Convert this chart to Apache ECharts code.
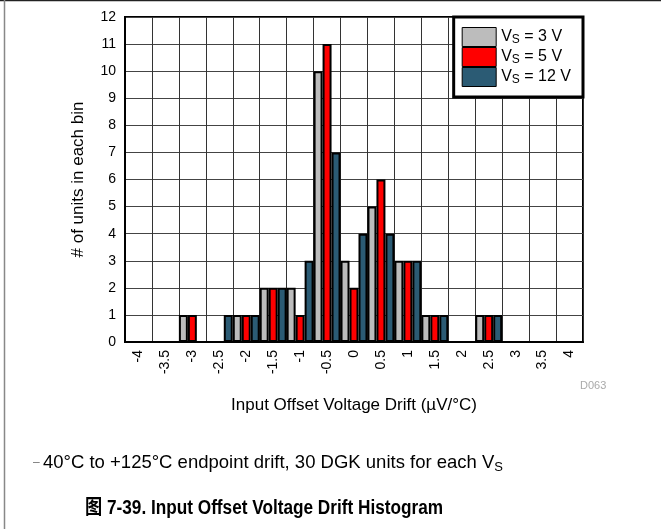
<!DOCTYPE html>
<html>
<head>
<meta charset="utf-8">
<script src="https://cdn.jsdelivr.net/npm/echarts@6/dist/echarts.min.js"></script>
<style>
html, body { margin: 0; padding: 0; background: #fff; }
#main { width: 661px; height: 529px; }
</style>
</head>
<body>
<div id="main"></div>
<script>
// bins of input offset voltage drift (uV/C)
var bins = ['-4', '-3.5', '-3', '-2.5', '-2', '-1.5', '-1', '-0.5', '0', '0.5', '1', '1.5', '2', '2.5', '3', '3.5', '4'];
// number of units in each bin
var vs3 = [0, 0, 1, 0, 1, 2, 2, 10, 3, 5, 3, 1, 0, 1, 0, 0, 0];
var vs5 = [0, 0, 1, 0, 1, 2, 1, 11, 2, 6, 3, 1, 0, 1, 0, 0, 0];
var vs12 = [0, 0, 0, 1, 1, 2, 3, 7, 4, 4, 3, 1, 0, 1, 0, 0, 0];
var names = ['VS = 3 V', 'VS = 5 V', 'VS = 12 V'];
var colors = ['#bcbcbc', '#ff0000', '#2b5b74'];

var font = 'Liberation Sans, Arial, sans-serif';
var myChart = echarts.init(document.getElementById('main'));

function bar(name, data, color) {
	return {
		name: name,
		type: 'bar',
		data: data,
		barGap: 0,
		barCategoryGap: 0,
		itemStyle: {
			color: color,
			borderColor: '#000',
			borderWidth: 2
		},
		emphasis: { disabled: true }
	};
}

var option = {
	animation: false,
	backgroundColor: '#fff',
	textStyle: { fontFamily: font },
	grid: {
		left: 125,
		right: 78,
		top: 17,
		bottom: 187,
		show: true,
		borderColor: '#000',
		borderWidth: 2
	},
	legend: {
		right: 78,
		top: 17,
		orient: 'vertical',
		icon: 'rect',
		itemWidth: 34,
		itemHeight: 19,
		itemGap: 0,
		padding: [10, 12, 10, 8],
		backgroundColor: '#fff',
		borderColor: '#000',
		borderWidth: 3,
		itemStyle: { borderColor: '#000', borderWidth: 1 },
		formatter: function(name) {
			return '{v|V}{s|S}{v| = ' + name.split('= ')[1] + '}';
		},
		textStyle: {
			rich: {
				v: { fontSize: 16, color: '#000', fontFamily: font, lineHeight: 19 },
				s: { fontSize: 12, color: '#000', fontFamily: font, lineHeight: 19, padding: [6, 0, 0, 0] }
			}
		},
		data: names
	},
	xAxis: {
		type: 'category',
		data: bins,
		name: 'Input Offset Voltage Drift (\u00b5V/\u00b0C)',
		nameLocation: 'middle',
		nameGap: 55,
		nameTextStyle: { fontSize: 17, color: '#000', fontFamily: font },
		axisLine: { lineStyle: { color: '#000', width: 2 } },
		axisTick: { show: false },
		axisLabel: { rotate: 90, fontSize: 14, color: '#000', margin: 8, fontFamily: font },
		splitLine: { show: true, interval: 0, lineStyle: { color: '#333', width: 1 } }
	},
	yAxis: {
		type: 'value',
		min: 0,
		max: 12,
		interval: 1,
		name: '# of units in each bin',
		nameLocation: 'middle',
		nameGap: 38,
		nameTextStyle: { fontSize: 17, color: '#000', fontFamily: font },
		axisLine: { show: true, lineStyle: { color: '#000', width: 2 } },
		axisTick: { show: false },
		axisLabel: { fontSize: 14, color: '#000', margin: 9, fontFamily: font },
		splitLine: { show: true, lineStyle: { color: '#444', width: 1 } }
	},
	series: [
		bar(names[0], vs3, colors[0]),
		bar(names[1], vs5, colors[1]),
		bar(names[2], vs12, colors[2])
	],
	graphic: [
		{ type: 'line', shape: { x1: 0, y1: 0.5, x2: 661, y2: 0.5 }, style: { stroke: '#222', lineWidth: 1.5 } },
		{ type: 'line', shape: { x1: 4.5, y1: 0, x2: 4.5, y2: 529 }, style: { stroke: '#888', lineWidth: 1.5 } },
		{ type: 'text', left: 580, top: 380, style: { text: 'D063', fontSize: 11, fill: '#aaa', fontFamily: font } },
		{
			type: 'text', x: 33, y: 463,
			style: {
				x: 0, y: 0,
				verticalAlign: 'middle',
				text: '{d|\u2013} {t|40\u00b0C to +125\u00b0C endpoint drift, 30 DGK units for each V}{s|S}',
				rich: {
					d: { fontSize: 12, fill: '#777', fontFamily: font, lineHeight: 24 },
					t: { fontSize: 18.5, fill: '#000', fontFamily: font, lineHeight: 24 },
					s: { fontSize: 13, fill: '#000', fontFamily: font, lineHeight: 24, padding: [8, 0, 0, 0] }
				}
			}
		},
		{
			type: 'text', x: 85, y: 508, scaleX: 0.86, originX: 0, originY: 0,
			style: {
				x: 0, y: 0,
				verticalAlign: 'middle',
				text: '\u56fe 7-39. Input Offset Voltage Drift Histogram',
				fontSize: 20, fontWeight: 'bold', fill: '#000',
				fontFamily: 'Liberation Sans, Noto Sans CJK SC, sans-serif'
			}
		}
	]
};

myChart.setOption(option);
</script>
</body>
</html>
